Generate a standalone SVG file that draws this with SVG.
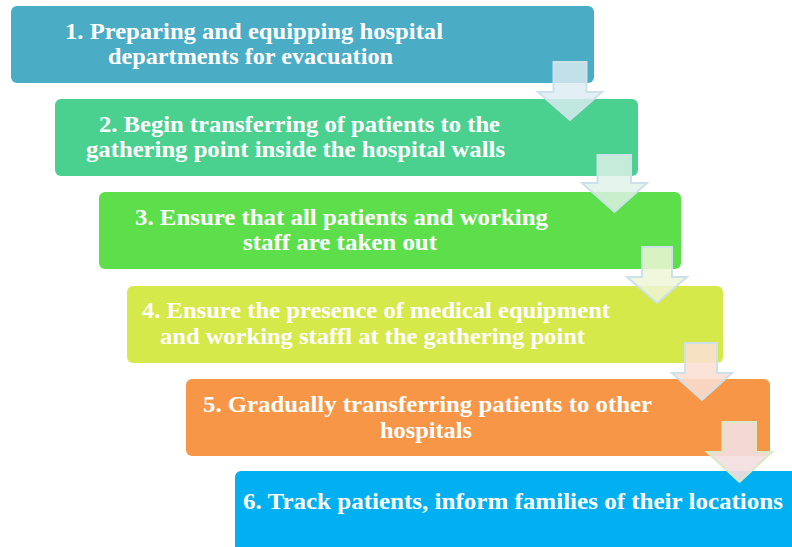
<svg xmlns="http://www.w3.org/2000/svg" width="792" height="547" viewBox="0 0 792 547">
  <defs>
    <style>
      .box { stroke: none; }
      .lbl { font-family: "Liberation Serif", "Times New Roman", serif; font-weight: bold; font-size: 23px; fill: #ffffff; }
      .arrow { stroke-width: 2; stroke-linejoin: miter; }
    </style>
  </defs>
  <rect width="792" height="547" fill="#ffffff"/>

  <!-- step boxes -->
  <g id="step1">
    <rect class="box" x="11" y="6" width="583" height="77" rx="6" fill="#4BACC6"/>
    <text class="lbl" x="65" y="39" textLength="378" lengthAdjust="spacingAndGlyphs">1. Preparing and equipping hospital</text>
    <text class="lbl" x="108" y="64" textLength="285" lengthAdjust="spacingAndGlyphs">departments for evacuation</text>
  </g>
  <g id="step2">
    <rect class="box" x="55" y="99" width="583" height="77" rx="6" fill="#4AD18F"/>
    <text class="lbl" x="99" y="132" textLength="401" lengthAdjust="spacingAndGlyphs">2. Begin transferring of patients to the</text>
    <text class="lbl" x="86" y="157" textLength="419" lengthAdjust="spacingAndGlyphs">gathering point inside the hospital walls</text>
  </g>
  <g id="step3">
    <rect class="box" x="99" y="192" width="582" height="77" rx="6" fill="#5DDF4B"/>
    <text class="lbl" x="135" y="225" textLength="413" lengthAdjust="spacingAndGlyphs">3. Ensure that all patients and working</text>
    <text class="lbl" x="243" y="250" textLength="194" lengthAdjust="spacingAndGlyphs">staff are taken out</text>
  </g>
  <g id="step4">
    <rect class="box" x="127" y="286" width="596" height="77" rx="6" fill="#D5E94A"/>
    <text class="lbl" x="142" y="318" textLength="468" lengthAdjust="spacingAndGlyphs">4. Ensure the presence of medical equipment</text>
    <text class="lbl" x="160" y="344" textLength="425" lengthAdjust="spacingAndGlyphs">and working staffl at the gathering point</text>
  </g>
  <g id="step5">
    <rect class="box" x="186" y="379" width="584" height="77" rx="6" fill="#F79646"/>
    <text class="lbl" x="203" y="412" textLength="449" lengthAdjust="spacingAndGlyphs">5. Gradually transferring patients to other</text>
    <text class="lbl" x="380" y="438" textLength="92" lengthAdjust="spacingAndGlyphs">hospitals</text>
  </g>
  <g id="step6">
    <rect class="box" x="235" y="471" width="572" height="90" rx="6" fill="#00B0F0"/>
    <text class="lbl" x="243" y="509" textLength="540" lengthAdjust="spacingAndGlyphs">6. Track patients, inform families of their locations</text>
  </g>

  <!-- down arrows between steps -->
  <g id="connectors">
    <path class="arrow" d="M553.5,62 H586.5 V92 H602 L570,120 L538,92 H553.5 Z" fill="#DCEBF1" fill-opacity="0.82" stroke="#CDE1E9"/>
    <path class="arrow" d="M597.5,155 H631 V183 H647 L614.5,212 L582,183 H597.5 Z" fill="#DFF2E8" fill-opacity="0.82" stroke="#CDE1E9"/>
    <path class="arrow" d="M642,247 H672 V277 H687 L657,303 L627,277 H642 Z" fill="#EEF6D6" fill-opacity="0.85" stroke="#CDE1E9"/>
    <path class="arrow" d="M685,343 H717 V373 H732 L702,400 L672,373 H685 Z" fill="#FADFD4" fill-opacity="0.88" stroke="#CFE1E8"/>
    <path class="arrow" d="M722.5,422 H756 V452 H772 L739.5,482 L707,452 H722.5 Z" fill="#F3DEDE" fill-opacity="0.92" stroke="#DAE9C4"/>
  </g>
</svg>
